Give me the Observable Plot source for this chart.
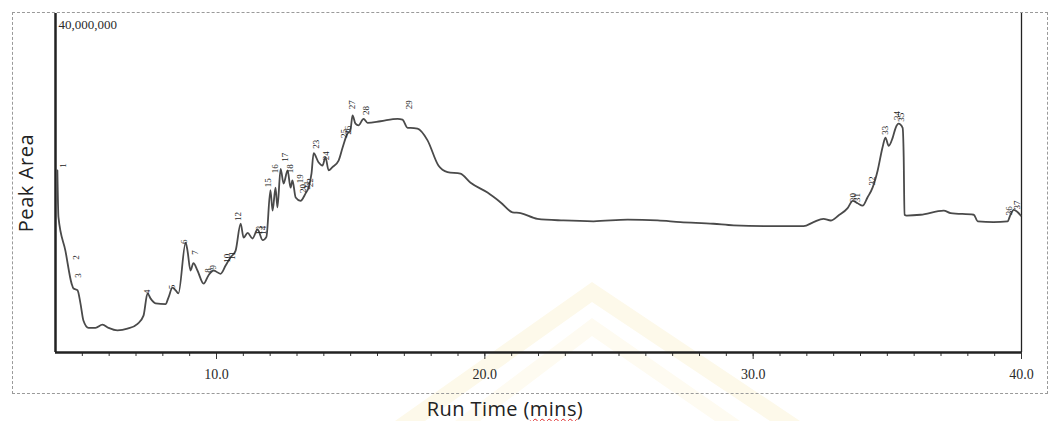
<!DOCTYPE html>
<html>
<head>
<meta charset="utf-8">
<script src="https://cdn.jsdelivr.net/npm/d3@7"></script>
<script src="https://cdn.jsdelivr.net/npm/@observablehq/plot@0.6"></script>
<style>
  html, body { margin: 0; padding: 0; background: #fff; }
  #wrap { position: relative; width: 1051px; height: 421px; overflow: hidden; }
  .wm { position: absolute; left: 0; top: 0; width: 1051px; height: 421px; pointer-events: none; }
  #wm1 { background: #fdf9ea; clip-path: polygon(395px 421px, 592px 282px, 800px 421px, 770px 421px, 592px 302px, 425px 421px); }
  #wm2 { background: #fefbf1; clip-path: polygon(455px 421px, 592px 318px, 740px 421px, 715px 421px, 592px 336px, 480px 421px); }
  #border { position: absolute; left: 12px; top: 12px; width: 1034px; height: 380px; border: 1px dashed #9a9a9a; pointer-events: none; }
  #ylab { position: absolute; left: 25px; top: 183px; transform: translate(-50%, -50%) rotate(-90deg); font: 20px "Open Sans", sans-serif; letter-spacing: 0.6px; color: #222; white-space: nowrap; }
  #xlab { position: absolute; left: 505px; top: 408px; transform: translate(-50%, -50%); font: 20px "Open Sans", sans-serif; letter-spacing: 0.4px; color: #222; white-space: nowrap; }
  #xlab span { text-decoration: underline wavy #d22; text-decoration-thickness: 1px; text-underline-offset: 2px; }
  #chart { position: absolute; left: 0; top: 0; }
</style>
</head>
<body>
<div id="wrap">
  <div class="wm" id="wm1"></div>
  <div class="wm" id="wm2"></div>
  <div id="chart"></div>
  <div id="border"></div>
  <div id="ylab">Peak Area</div>
  <div id="xlab">Run Time (<span>mins</span>)</div>
</div>
<script>
// Chromatogram trace: run time (min) and peak area (millions)
const runTimes = [4.07,4.11,4.37,4.60,4.67,4.82,4.93,5.04,5.23,5.49,5.75,5.98,6.31,6.68,7.06,7.28,7.43,7.54,7.73,8.10,8.21,8.36,8.47,8.58,8.85,8.92,9.03,9.14,9.29,9.52,9.70,9.89,10.15,10.34,10.52,10.71,10.90,11.01,11.16,11.34,11.53,11.72,11.86,12.01,12.09,12.20,12.27,12.39,12.50,12.65,12.76,12.83,12.95,13.13,13.32,13.43,13.54,13.62,13.80,13.95,14.06,14.18,14.32,14.55,14.70,14.88,14.99,15.07,15.18,15.29,15.48,15.63,16.11,16.75,16.93,17.12,17.23,17.49,17.86,18.27,18.61,19.09,19.47,20.10,20.59,21.03,21.33,21.96,22.93,24.05,25.32,26.44,27.29,28.52,29.27,31.02,31.88,32.25,32.62,32.89,33.18,33.52,33.71,33.89,34.08,34.26,34.45,34.64,34.82,34.93,35.05,35.20,35.31,35.42,35.57,35.61,35.64,35.72,36.24,37.10,37.36,38.22,38.37,38.96,39.48,39.59,39.71,39.86,39.97];
const peakAreas = [22.2,16.5,12.4,8.4,7.8,7.6,6.0,3.9,3.0,3.0,3.4,3.0,2.7,2.9,3.5,4.5,7.2,6.6,6.0,5.9,6.7,7.9,7.6,7.2,13.4,12.4,10.0,10.9,10.0,8.4,9.4,10.0,9.6,10.6,11.6,12.4,15.7,14.0,14.6,13.9,15.0,13.7,14.1,19.8,17.3,20.1,17.7,22.4,20.6,22.2,20.1,21.0,18.9,18.5,19.4,20.1,21.8,24.3,23.2,22.8,23.8,22.2,22.6,23.4,25.0,26.7,27.1,28.9,27.9,27.7,28.5,28.0,28.2,28.5,28.4,27.4,27.4,27.3,25.9,22.8,22.0,21.8,20.7,19.5,18.3,17.1,17.0,16.3,16.1,16.0,16.2,16.1,15.9,15.7,15.5,15.4,15.4,15.9,16.3,16.1,16.7,17.6,18.5,18.2,17.9,18.9,20.1,22.2,25.0,26.2,25.2,26.2,27.4,27.9,27.4,23.8,16.8,16.7,16.8,17.3,17.0,16.8,16.0,15.9,16.0,16.8,17.4,17.1,16.7];

// Peak labels
const peakIds = [1,2,3,4,5,6,7,8,9,10,11,12,13,14,15,16,17,18,19,20,21,22,23,24,25,26,27,28,29,30,31,32,33,34,35,36,37];
const peakTimes = [4.30,4.78,4.86,7.43,8.36,8.81,9.22,9.70,9.89,10.41,10.60,10.82,11.60,11.75,11.94,12.20,12.57,12.76,13.13,13.24,13.36,13.47,13.73,14.10,14.77,14.92,15.07,15.59,17.19,33.71,33.89,34.45,34.90,35.38,35.53,39.52,39.82];
const peakLabelAreas = [22.8,11.6,9.4,7.4,8.0,13.5,12.2,10.0,10.4,11.5,11.8,16.6,14.9,14.9,20.7,22.4,23.8,22.4,21.2,20.0,20.4,20.7,25.4,24.0,26.7,27.1,30.2,29.5,30.2,18.9,18.9,20.9,27.1,28.9,28.7,17.3,18.0];

// Axis ticks
const majorTicks = [10, 20, 30, 40];
const minorTicks = [5,6,7,8,9,10,11,12,13,14,15,16,17,18,19,20,21,22,23,24,25,26,27,28,29,30,31,32,33,34,35,36,37,38,39,40];
const yTicks = [40];

const trace = runTimes.map((t, i) => ({t, v: peakAreas[i]}));
const peaks = peakIds.map((id, i) => ({id, t: peakTimes[i], v: peakLabelAreas[i]}));

const xDomain = [4.0, 40.0];
const serif = '"Liberation Serif", "DejaVu Serif", serif';

const chart = Plot.plot({
  width: 1051,
  height: 421,
  marginLeft: 55,
  marginRight: 30,
  marginTop: 13,
  marginBottom: 69,
  x: {domain: xDomain},
  y: {domain: [0, 41.34]},
  style: {background: "transparent", fontFamily: serif},
  marks: [
    Plot.axisX({ticks: minorTicks, tickSize: 4, tickFormat: () => "", stroke: "#333", label: null}),
    Plot.axisX({ticks: majorTicks, tickSize: 7, tickPadding: 10, tickFormat: d3.format(".1f"), fontSize: 14, fill: "#2a2a2a", stroke: "#333", label: null}),
    Plot.axisY({ticks: yTicks, tickSize: 0, tickPadding: -3, textAnchor: "start", tickFormat: d => d3.format(",")(d * 1e6), fontSize: 13, fill: "#2a2a2a", label: null}),
    Plot.ruleX([xDomain[0]], {stroke: "#222", strokeWidth: 2.5}),
    Plot.ruleX([xDomain[1]], {stroke: "#222", strokeWidth: 1.3}),
    Plot.ruleY([0], {stroke: "#222", strokeWidth: 2.5}),
    Plot.line(trace, {x: "t", y: "v", stroke: "#4a4a4a", strokeWidth: 1.8, curve: "monotone-x"}),
    Plot.text(peaks, {x: "t", y: "v", text: d => String(d.id), rotate: -90, fontSize: 9, fill: "#222", fontFamily: serif})
  ]
});
document.getElementById("chart").appendChild(chart);
</script>
</body>
</html>
